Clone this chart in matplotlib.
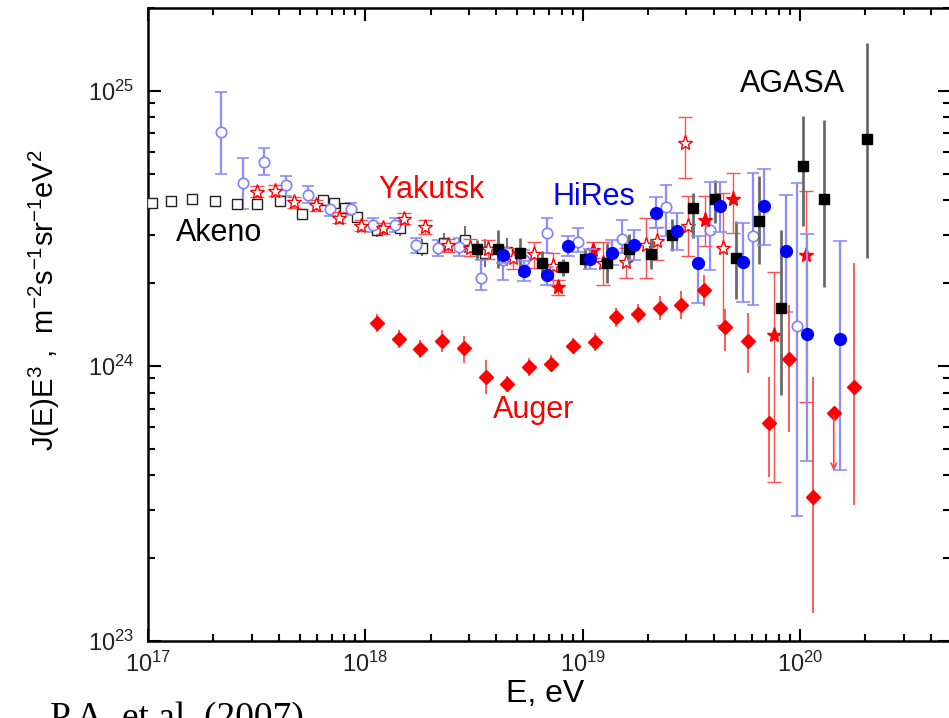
import numpy as np
import matplotlib
matplotlib.use('Agg')
import matplotlib.pyplot as plt
from matplotlib.ticker import NullFormatter

plt.rcParams['font.family'] = ['Liberation Sans', 'DejaVu Sans']
plt.rcParams['mathtext.fontset'] = 'custom'
plt.rcParams['mathtext.rm'] = 'Liberation Sans'
plt.rcParams['mathtext.it'] = 'Liberation Sans:italic'
plt.rcParams['mathtext.bf'] = 'Liberation Sans:bold'

# ---- data: energy (eV), J(E)E^3, errors in dex (up / down) ----
akeno_E = [1.04e17, 1.28e17, 1.60e17, 2.03e17, 2.56e17, 3.18e17, 4.05e17, 5.11e17, 6.39e17, 7.18e17,
           8.06e17, 9.12e17, 1.13e18, 1.45e18, 1.82e18, 2.29e18, 2.88e18, 3.56e18, 4.48e18]
akeno_J = [3.91e24, 3.97e24, 4.06e24, 3.97e24, 3.88e24, 3.88e24, 3.97e24, 3.56e24, 4.02e24, 3.91e24,
           3.74e24, 3.47e24, 3.12e24, 3.17e24, 2.69e24, 2.80e24, 2.88e24, 2.57e24, 2.60e24]
akeno_err = [0.01, 0.01, 0.01, 0.01, 0.01, 0.01, 0.015, 0.015, 0.015, 0.015,
             0.02, 0.02, 0.025, 0.03, 0.03, 0.035, 0.05, 0.05, 0.05]

yak_E = [3.18e17, 3.84e17, 4.70e17, 5.96e17, 7.59e17, 9.51e17, 1.21e18, 1.51e18, 1.88e18, 2.41e18, 3.03e18,
         3.68e18, 4.76e18, 5.97e18, 7.33e18, 1.24e19, 1.58e19, 1.96e19, 2.19e19, 2.96e19, 3.06e19, 4.44e19]
yak_J = [4.30e24, 4.34e24, 3.94e24, 3.83e24, 3.46e24, 3.23e24, 3.17e24, 3.43e24, 3.19e24, 2.74e24, 2.69e24,
         2.65e24, 2.47e24, 2.55e24, 2.31e24, 2.37e24, 2.38e24, 2.74e24, 2.85e24, 6.45e24, 3.23e24, 2.68e24]
yak_up = [0.02, 0.02, 0.02, 0.02, 0.02, 0.02, 0.02, 0.02, 0.025, 0.025, 0.03,
          0.035, 0.035, 0.045, 0.046, 0.074, 0.053, 0.10, 0.05, 0.097, 0.107, 0.20]
yak_dn = [0.02, 0.02, 0.02, 0.02, 0.02, 0.02, 0.02, 0.02, 0.025, 0.025, 0.03,
          0.035, 0.04, 0.05, 0.07, 0.08, 0.056, 0.12, 0.07, 0.127, 0.11, 0.28]

yakf_E = [7.73e18, 1.12e19, 3.66e19, 4.91e19, 7.60e19, 1.07e20]
yakf_J = [1.94e24, 2.64e24, 3.40e24, 4.05e24, 1.29e24, 2.53e24]
yakf_up = [0.025, 0.03, 0.085, 0.095, 0.231, 0.234]
yakf_dn = [0.03, 0.03, 0.097, 0.125, 0.532, 0.533]

hro_E = [2.16e17, 2.73e17, 3.43e17, 4.32e17, 5.42e17, 6.86e17, 8.59e17, 1.09e18, 1.37e18, 1.71e18, 2.16e18,
         2.70e18, 3.41e18, 4.31e18, 5.39e18, 6.88e18, 9.56e18, 1.52e19, 2.42e19, 3.86e19, 6.10e19, 9.67e19]
hro_J = [7.11e24, 4.62e24, 5.53e24, 4.53e24, 4.19e24, 3.71e24, 3.73e24, 3.26e24, 3.26e24, 2.74e24, 2.68e24,
         2.71e24, 2.09e24, 2.43e24, 2.43e24, 3.05e24, 2.83e24, 2.89e24, 3.78e24, 3.12e24, 2.97e24, 1.40e24]
hro_up = [0.143, 0.091, 0.049, 0.035, 0.03, 0.024, 0.022, 0.025, 0.025, 0.027, 0.03,
          0.032, 0.064, 0.036, 0.036, 0.052, 0.05, 0.07, 0.081, 0.175, 0.23, 0.52]
hro_dn = [0.155, 0.095, 0.048, 0.04, 0.03, 0.024, 0.022, 0.025, 0.025, 0.027, 0.03,
          0.032, 0.045, 0.073, 0.055, 0.075, 0.036, 0.05, 0.107, 0.145, 0.25, 0.69]

hrf_E = [4.30e18, 5.37e18, 6.82e18, 8.59e18, 1.08e19, 1.37e19, 1.73e19, 2.18e19,
         2.73e19, 3.41e19, 4.30e19, 5.46e19, 6.84e19, 8.61e19, 1.08e20, 1.53e20]
hrf_J = [2.52e24, 2.21e24, 2.14e24, 2.73e24, 2.44e24, 2.58e24, 2.75e24, 3.61e24,
         3.10e24, 2.36e24, 3.82e24, 2.39e24, 3.82e24, 2.62e24, 1.31e24, 1.25e24]
hrf_up = [0.029, 0.036, 0.029, 0.036, 0.036, 0.047, 0.055, 0.055,
          0.065, 0.098, 0.087, 0.142, 0.135, 0.204, 0.364, 0.356]
hrf_dn = [0.029, 0.036, 0.036, 0.036, 0.036, 0.044, 0.055, 0.055,
          0.069, 0.145, 0.095, 0.145, 0.142, 0.222, 0.462, 0.476]

ag_E = [3.26e18, 4.06e18, 5.15e18, 6.47e18, 8.15e18, 1.03e19, 1.30e19, 1.64e19, 2.06e19,
        2.57e19, 3.23e19, 4.06e19, 5.09e19, 6.47e19, 8.16e19, 1.03e20, 1.29e20, 2.04e20]
ag_J = [2.65e24, 2.65e24, 2.57e24, 2.36e24, 2.28e24, 2.45e24, 2.37e24, 2.66e24, 2.55e24,
        2.98e24, 3.74e24, 4.06e24, 2.46e24, 3.35e24, 1.62e24, 5.31e24, 4.06e24, 6.67e24]
ag_up = [0.036, 0.069, 0.055, 0.044, 0.03, 0.036, 0.073, 0.055, 0.055,
         0.058, 0.055, 0.067, 0.135, 0.167, 0.284, 0.185, 0.284, 0.35]
ag_dn = [0.036, 0.069, 0.055, 0.044, 0.03, 0.036, 0.073, 0.055, 0.055,
         0.058, 0.109, 0.09, 0.149, 0.153, 0.316, 0.218, 0.32, 0.433]

aug_E = [1.13e18, 1.43e18, 1.78e18, 2.25e18, 2.85e18, 3.58e18, 4.50e18, 5.68e18, 7.16e18, 9.06e18, 1.14e19,
         1.43e19, 1.80e19, 2.27e19, 2.83e19, 3.62e19, 4.51e19, 5.79e19, 7.23e19, 8.94e19, 1.15e20, 1.77e20]
aug_J = [1.43e24, 1.25e24, 1.15e24, 1.23e24, 1.16e24, 9.14e23, 8.60e23, 9.89e23, 1.02e24, 1.18e24, 1.22e24,
         1.50e24, 1.55e24, 1.62e24, 1.67e24, 1.88e24, 1.39e24, 1.23e24, 6.22e23, 1.06e24, 3.35e23, 8.35e23]
aug_up = [0.033, 0.033, 0.033, 0.04, 0.044, 0.062, 0.03, 0.033, 0.03, 0.03, 0.033,
          0.033, 0.033, 0.044, 0.051, 0.055, 0.065, 0.102, 0.165, 0.195, 0.436, 0.452]
aug_dn = [0.033, 0.033, 0.033, 0.04, 0.055, 0.062, 0.03, 0.033, 0.03, 0.03, 0.033,
          0.033, 0.033, 0.044, 0.051, 0.055, 0.09, 0.117, 0.197, 0.264, 0.424, 0.427]
# Auger upper limit point
auglim_E = [1.43e20]
auglim_J = [6.75e23]
auglim_to = [4.07e23]


def yerr(J, up, dn):
    J = np.array(J)
    return [J - J / 10 ** np.array(dn), J * 10 ** np.array(up) - J]


fig = plt.figure(figsize=(9.49, 7.18), dpi=100)
ax = fig.add_axes([148 / 949, 1 - 641 / 718, 802 / 949, 633 / 718])
ax.set_xscale('log')
ax.set_yscale('log')

ax.errorbar(akeno_E, akeno_J, yerr=yerr(akeno_J, akeno_err, akeno_err), fmt='s', ms=7,
            mfc='white', mec='#222222', mew=1.0, ecolor='#555555', elinewidth=1.2, capsize=0, zorder=3)
ax.errorbar(hro_E, hro_J, yerr=yerr(hro_J, hro_up, hro_dn), fmt='o', ms=7.5,
            mfc='white', mec='#8080ff', mew=1.2, ecolor='#8c8cff', elinewidth=1.6, capsize=4,
            capthick=1.2, zorder=3)
ax.errorbar(yak_E, yak_J, yerr=yerr(yak_J, yak_up, yak_dn), fmt='*', ms=11,
            mfc='white', mec='red', mew=1.0, ecolor='#ff5050', elinewidth=1.0, capsize=5, zorder=4)
ax.errorbar(yakf_E, yakf_J, yerr=yerr(yakf_J, yakf_up, yakf_dn), fmt='*', ms=11,
            color='red', ecolor='#ff5050', elinewidth=1.0, capsize=5, zorder=4)
ax.errorbar(ag_E, ag_J, yerr=yerr(ag_J, ag_up, ag_dn), fmt='s', ms=7,
            color='black', ecolor='#6a6a6a', elinewidth=2.0, capsize=0, zorder=5)
ax.errorbar(hrf_E, hrf_J, yerr=yerr(hrf_J, hrf_up, hrf_dn), fmt='o', ms=8.5,
            color='#0000ff', ecolor='#8c8cff', elinewidth=1.6, capsize=5, capthick=1.2, zorder=5)
ax.errorbar(aug_E, aug_J, yerr=yerr(aug_J, aug_up, aug_dn), fmt='D', ms=7.5,
            color='red', ecolor='#ff4040', elinewidth=1.2, capsize=0, zorder=6)
ax.plot(auglim_E, auglim_J, 'D', ms=7.5, color='red', zorder=6)
for e, j, t in zip(auglim_E, auglim_J, auglim_to):
    ax.annotate('', xy=(e, t), xytext=(e, j),
                arrowprops=dict(arrowstyle='->', color='#ff4040', lw=1.2), zorder=6)

ax.set_xlim(1e17, 4.9e20)
ax.set_ylim(1e23, 2.0e25)

ax.tick_params(which='both', direction='in', top=True, right=True, width=1.5, labelsize=17,
               labelcolor='#222222')
ax.tick_params(which='major', length=9)
ax.tick_params(which='minor', length=5)
ax.tick_params(axis='x', pad=8)
ax.tick_params(axis='y', pad=10)
ax.xaxis.set_minor_formatter(NullFormatter())
ax.yaxis.set_minor_formatter(NullFormatter())
for s in ax.spines.values():
    s.set_linewidth(1.8)

# experiment labels
ax.text(0.0885, 0.632, 'Akeno', transform=ax.transAxes, ha='center', va='baseline', fontsize=22, color='black')
ax.text(0.353, 0.700, 'Yakutsk', transform=ax.transAxes, ha='center', va='baseline', fontsize=22, color='red')
ax.text(0.5555, 0.689, 'HiRes', transform=ax.transAxes, ha='center', va='baseline', fontsize=22, color='#0000ff')
ax.text(0.481, 0.352, 'Auger', transform=ax.transAxes, ha='center', va='baseline', fontsize=22, color='red')
ax.text(0.8036, 0.867, 'AGASA', transform=ax.transAxes, ha='center', va='baseline', fontsize=22, color='black')

fig.text(44 / 949, 1 - 300 / 718, r'J(E)E$^3$ ,  m$^{-2}$s$^{-1}$sr$^{-1}$eV$^2$',
         rotation=90, ha='center', va='center', fontsize=21)
fig.text(545 / 949, 1 - 694 / 718, 'E, eV', ha='center', va='center', fontsize=23)
fig.text(50 / 949, -0.014, 'P.A. et al. (2007)', ha='left', va='baseline', fontsize=27,
         family=['Liberation Serif', 'DejaVu Serif'])

fig.savefig('out.png', dpi=100)
